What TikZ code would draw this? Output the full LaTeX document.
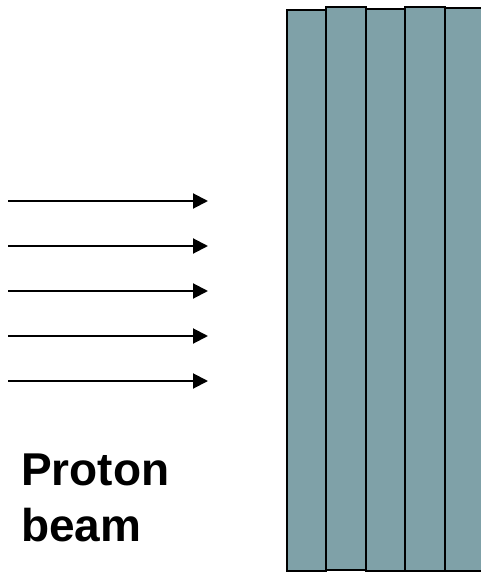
\documentclass[tikz,border=0pt]{standalone}
\usepackage{fontspec}
\setmainfont{Liberation Sans}
\usetikzlibrary{arrows.meta}
\definecolor{platefill}{RGB}{127,161,168}
\tikzset{
  plate/.style={draw=black, line width=2pt, fill=platefill},
  beam/.style={line width=2pt, -{Triangle[length=15pt,width=15pt]}},
  lbl/.style={font=\fontsize{46}{56}\selectfont\bfseries, align=left, anchor=base west, inner sep=0pt}
}
\begin{document}
\begin{tikzpicture}[x=1pt,y=-1pt]
\useasboundingbox (0,0) rectangle (481,572);
\begin{scope}
\clip (0,0) rectangle (481,572);
\draw[plate] (287,10) rectangle (326,571);
\draw[plate] (326,7) rectangle (366,570);
\draw[plate] (366,9) rectangle (405,571);
\draw[plate] (405,7) rectangle (445,571);
\draw[plate] (445,8) rectangle (500,571);
\end{scope}
\foreach \i/\y in {1/201,2/246,3/291,4/336,5/381}{
  \coordinate (s\i) at (8,\y);
  \coordinate (e\i) at (208,\y);
  \draw[beam] (s\i) -- (e\i);
}
\node[lbl] (label) at (21,485) {Proton};
\node[lbl] (label2) at (21,541) {beam};
\end{tikzpicture}
\end{document}
